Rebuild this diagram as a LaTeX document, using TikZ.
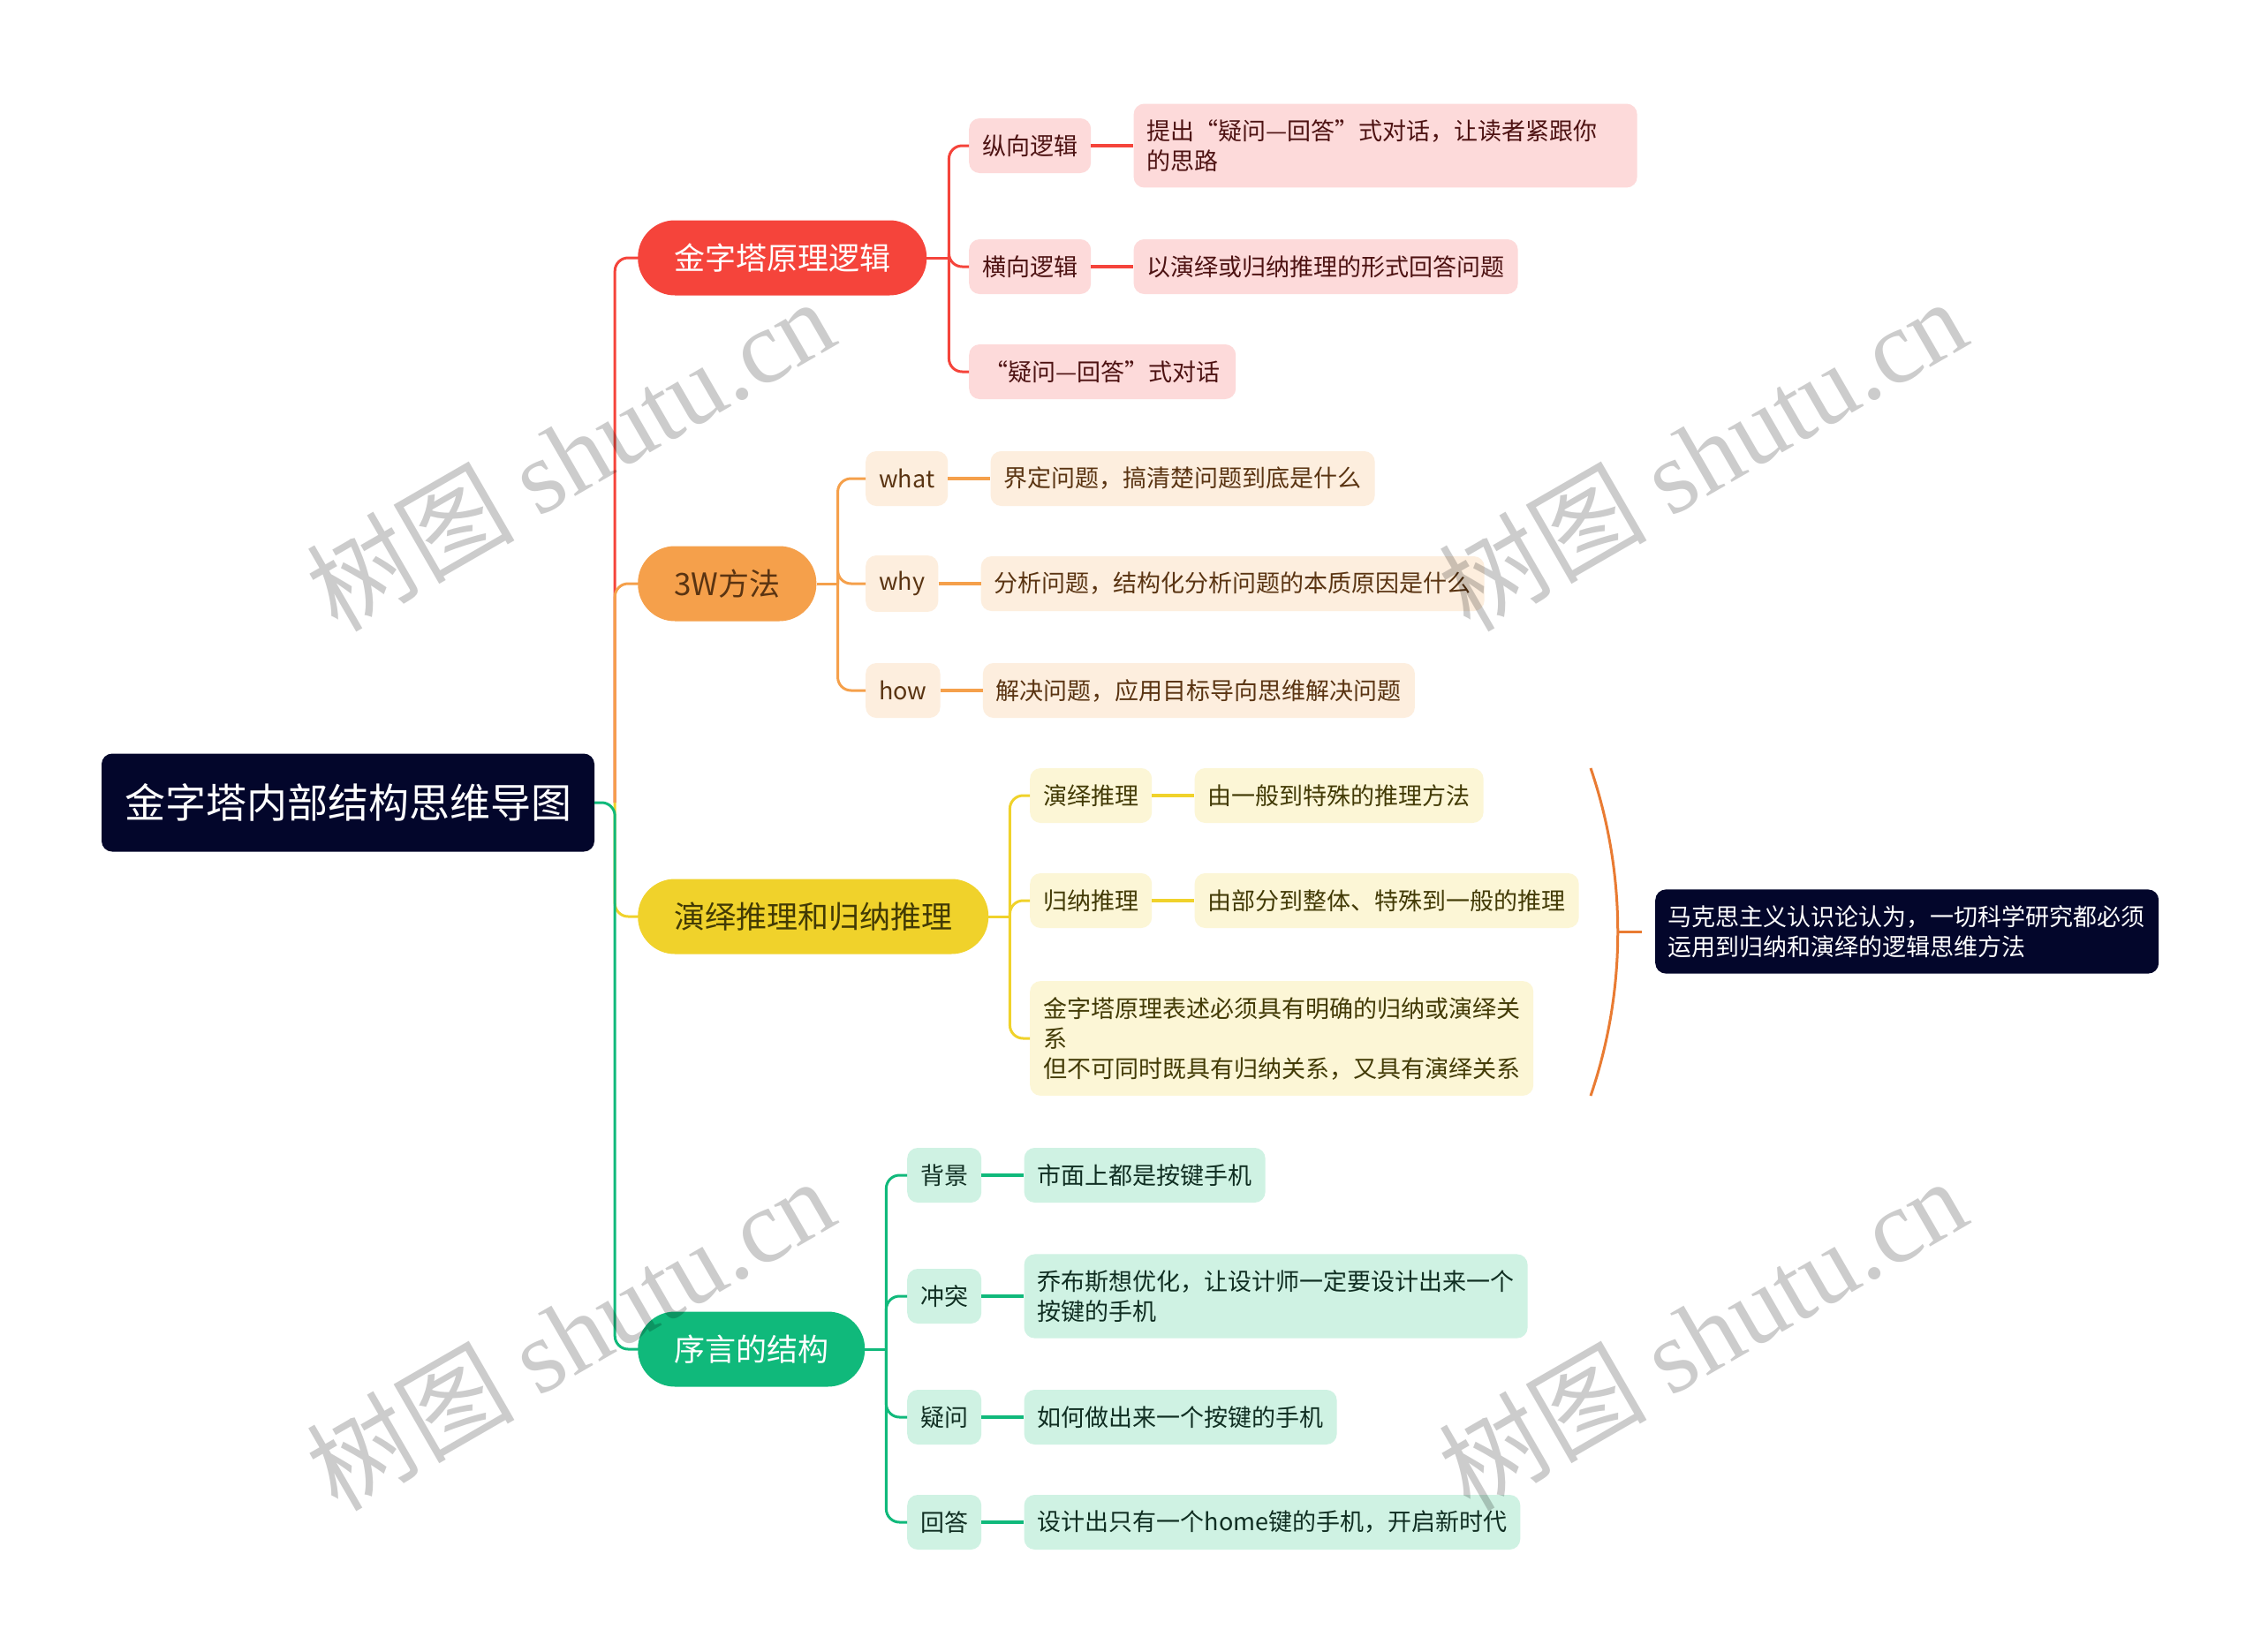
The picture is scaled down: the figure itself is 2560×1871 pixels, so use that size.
\documentclass[tikz,border=0pt]{standalone}
\usepackage{fontspec}
\setmainfont{Noto Sans CJK SC}
\newfontfamily\wmfont{Liberation Serif}
\usetikzlibrary{positioning}
\definecolor{navy}{HTML}{03062B}
\definecolor{redm}{HTML}{F5443B}
\definecolor{redl}{HTML}{FDDADA}
\definecolor{redt}{HTML}{4D1212}
\definecolor{orgm}{HTML}{F5A04B}
\definecolor{orgl}{HTML}{FDEEDE}
\definecolor{orgt}{HTML}{5A3412}
\definecolor{ylwm}{HTML}{F0D22B}
\definecolor{ylwl}{HTML}{FCF6D6}
\definecolor{ylwt}{HTML}{423A05}
\definecolor{grnm}{HTML}{10B97B}
\definecolor{grnl}{HTML}{CFF2E3}
\definecolor{grnt}{HTML}{102E22}
\definecolor{brc}{HTML}{E97B32}

\begin{document}
\begin{tikzpicture}[x=1pt,y=-1pt,
  rootbox/.style={fill=navy,text=white,rounded corners=12pt,inner xsep=26pt,minimum height=111pt,font=\fontsize{46}{55}\selectfont},
  topic/.style={fill=#1m,rounded corners=42pt,inner xsep=41pt,minimum height=85pt,font=\fontsize{35}{42}\selectfont},
  leaf/.style={fill=#1l,text=#1t,rounded corners=12pt,inner xsep=15pt,inner ysep=18pt,minimum height=62pt,align=left,font=\fontsize{27}{34}\selectfont},
  note/.style={fill=navy,text=white,rounded corners=12pt,inner xsep=14pt,inner ysep=18pt,text width=542pt,align=left,font=\fontsize{27}{34}\selectfont},
  edgeln/.style={draw=#1m,line width=3pt,rounded corners=15pt},
  twig/.style={draw=#1m,line width=4pt},
  wmark/.style={text=black,text opacity=0.2,rotate=30,font=\fontsize{118}{130}\selectfont}]
\fill[white] (0,0) rectangle (2560,1871);
\useasboundingbox (0,0) rectangle (2560,1871);

\node[rootbox] (main) at (394,909) {金字塔内部结构思维导图};

% 金字塔原理逻辑
\node[topic=red,text=white,anchor=west] (pyr) at (722,292) {金字塔原理逻辑};
\node[leaf=red,anchor=west] (vert) at (1097,165) {纵向逻辑};
\node[leaf=red,anchor=west] (horz) at (1097,302) {横向逻辑};
\node[leaf=red,anchor=west,minimum width=302pt] (qa) at (1097,421) {“疑问—回答”式对话};
\node[leaf=red,text width=540pt,right=48pt of vert] (vertx) {提出“疑问—回答”式对话，让读者紧跟你\\的思路};
\node[leaf=red,right=48pt of horz] (horzx) {以演绎或归纳推理的形式回答问题};

% 3W方法
\node[topic=org,text=orgt,anchor=west] (tw) at (722,661) {3W方法};
\node[leaf=org,anchor=west] (what) at (980,542) {what};
\node[leaf=org,anchor=west] (why) at (980,661) {why};
\node[leaf=org,anchor=west] (how) at (980,782) {how};
\node[leaf=org,right=48pt of what] (whatx) {界定问题，搞清楚问题到底是什么};
\node[leaf=org,right=48pt of why] (whyx) {分析问题，结构化分析问题的本质原因是什么};
\node[leaf=org,right=48pt of how] (howx) {解决问题，应用目标导向思维解决问题};

% 演绎推理和归纳推理
\node[topic=ylw,text=ylwt,anchor=west] (ind) at (722,1038) {演绎推理和归纳推理};
\node[leaf=ylw,anchor=west] (ded) at (1166,901) {演绎推理};
\node[leaf=ylw,anchor=west] (idc) at (1166,1020) {归纳推理};
\node[leaf=ylw,anchor=west,text width=540pt] (rule) at (1166,1176) {金字塔原理表述必须具有明确的归纳或演绎关\\系\\但不可同时既具有归纳关系，又具有演绎关系};
\node[leaf=ylw,right=48pt of ded] (dedx) {由一般到特殊的推理方法};
\node[leaf=ylw,right=48pt of idc] (idcx) {由部分到整体、特殊到一般的推理};
\node[note,anchor=west] (marx) at (1874,1055) {马克思主义认识论认为，一切科学研究都必须\\运用到归纳和演绎的逻辑思维方法};

% 序言的结构
\node[topic=grn,text=white,anchor=west] (pre) at (722,1528) {序言的结构};
\node[leaf=grn,anchor=west] (bg) at (1027,1331) {背景};
\node[leaf=grn,anchor=west] (cf) at (1027,1468) {冲突};
\node[leaf=grn,anchor=west] (qs) at (1027,1605) {疑问};
\node[leaf=grn,anchor=west] (an) at (1027,1724) {回答};
\node[leaf=grn,right=48pt of bg] (bgx) {市面上都是按键手机};
\node[leaf=grn,text width=540pt,right=48pt of cf] (cfx) {乔布斯想优化，让设计师一定要设计出来一个\\按键的手机};
\node[leaf=grn,right=48pt of qs] (qsx) {如何做出来一个按键的手机};
\node[leaf=grn,right=48pt of an] (anx) {设计出只有一个home键的手机，开启新时代};

% trunk
\path (main.east) ++(23,0) coordinate (hub);
\draw[edgeln=red] (hub) |- (pyr.west);
\draw[edgeln=org] (hub) |- (tw.west);
\draw[edgeln=ylw] (hub) |- (ind.west);
\draw[edgeln=grn] (main.east) -- (hub) |- (pre.west);

% branches
\draw[edgeln=red] (pyr.east) -- ++(25,0) coordinate (pyrh);
\foreach \c in {vert,horz,qa} \draw[edgeln=red] (pyrh) |- (\c.west);
\draw[edgeln=org] (tw.east) -- ++(24,0) coordinate (twh);
\foreach \c in {what,why,how} \draw[edgeln=org] (twh) |- (\c.west);
\draw[edgeln=ylw] (ind.east) -- ++(24,0) coordinate (indh);
\foreach \c in {ded,idc,rule} \draw[edgeln=ylw] (indh) |- (\c.west);
\draw[edgeln=grn] (pre.east) -- ++(24,0) coordinate (preh);
\foreach \c in {bg,cf,qs,an} \draw[edgeln=grn] (preh) |- (\c.west);

\draw[twig=red] (vert) -- (vertx);
\draw[twig=red] (horz) -- (horzx);
\draw[twig=org] (what) -- (whatx);
\draw[twig=org] (why) -- (whyx);
\draw[twig=org] (how) -- (howx);
\draw[twig=ylw] (ded) -- (dedx);
\draw[twig=ylw] (idc) -- (idcx);
\draw[twig=grn] (bg) -- (bgx);
\draw[twig=grn] (cf) -- (cfx);
\draw[twig=grn] (qs) -- (qsx);
\draw[twig=grn] (an) -- (anx);

% summary brace
\draw[brc,line width=3pt] (1801,870) .. controls (1842,990) and (1842,1121) .. (1801,1241);
\coordinate (bmid) at (1832,1055);
\draw[brc,line width=3pt] (bmid) -- ([xshift=-15pt]marx.west);

% watermark
\foreach \p/\q [count=\i] in {645/514,1927/514,645/1510,1927/1510}
  \node[wmark] (wm\i) at (\p,\q) {树图 {\wmfont shutu.cn}};
\end{tikzpicture}
\end{document}
